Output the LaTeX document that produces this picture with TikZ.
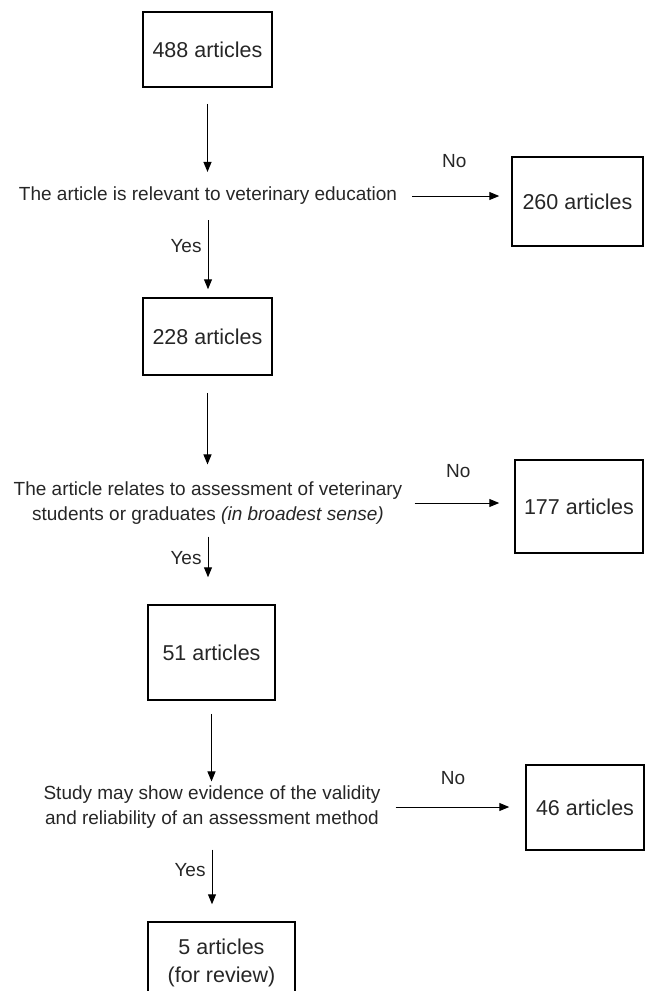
\documentclass[tikz,border=0pt]{standalone}
\usepackage{fontspec}
\setmainfont{Liberation Sans}
\usetikzlibrary{arrows.meta}

\begin{document}
\begin{tikzpicture}[x=1pt, y=-1pt,
    every node/.style={font=\fontsize{19}{25}\selectfont, text=black!85},
    box/.style={draw, line width=1.5pt, inner sep=0pt, align=center, font=\fontsize{21.5}{28}\selectfont},
    question/.style={inner sep=0pt, align=center},
    flow/.style={-{Triangle[length=10pt,width=8pt]}, line width=1pt}]
    \useasboundingbox (0,0) rectangle (656,991);

    % Screening stage 1
    \node[box, minimum width=129, minimum height=75] (n488) at (207.5,49.5) {488 articles};
    \node[question] (q1) at (208,196) {The article is relevant to veterinary education};
    \node[box, minimum width=131, minimum height=89] (n260) at (577.5,201.5) {260 articles};

    % Screening stage 2
    \node[box, minimum width=129, minimum height=77] (n228) at (207.5,336.5) {228 articles};
    \node[question] (q2) at (208,503) {The article relates to assessment of veterinary\\
        students or graduates \textit{(in broadest sense)}};
    \node[box, minimum width=128, minimum height=93] (n177) at (579,506.5) {177 articles};

    % Screening stage 3
    \node[box, minimum width=127, minimum height=95] (n51) at (211.5,652.5) {51 articles};
    \node[question] (q3) at (212,807) {Study may show evidence of the validity\\
        and reliability of an assessment method};
    \node[box, minimum width=118, minimum height=85] (n46) at (585,807.5) {46 articles};

    % Result
    \node[box, minimum width=147, minimum height=82] (n5) at (221.5,963) {5 articles\\(for review)};

    % Arrows
    \draw[flow, shorten <=16pt, shorten >=15pt] (n488) -- (n488 |- q1.north);
    \draw[flow, shorten <=15pt, shorten >=12pt] (q1.east) -- (q1.east -| n260.west)
        node[midway, above=28pt, inner sep=0pt] {No};
    \draw[flow, shorten <=15pt, shorten >=8pt] (q1) -- (q1 |- n228.north)
        node[pos=0.45, left=6pt, inner sep=0pt] {Yes};

    \draw[flow, shorten <=17pt, shorten >=17pt] (n228) -- (n228 |- q2.north);
    \draw[flow, shorten <=12pt, shorten >=15pt] (q2.east) -- (q2.east -| n177.west)
        node[midway, above=25pt, inner sep=0pt] {No};
    \draw[flow, shorten <=12pt, shorten >=27pt] (q2) -- (q2 |- n51.north)
        node[pos=0.42, left=6pt, inner sep=0pt] {Yes};

    \draw[flow, shorten <=13pt, shorten >=4pt] (n51) -- (n51 |- q3.north);
    \draw[flow, shorten <=15pt, shorten >=16pt] (q3.east) -- (q3.east -| n46.west)
        node[midway, above=22pt, inner sep=0pt] {No};
    \draw[flow, shorten <=21pt, shorten >=17pt] (q3) -- (q3 |- n5.north)
        node[pos=0.45, left=6pt, inner sep=0pt] {Yes};
\end{tikzpicture}
\end{document}
